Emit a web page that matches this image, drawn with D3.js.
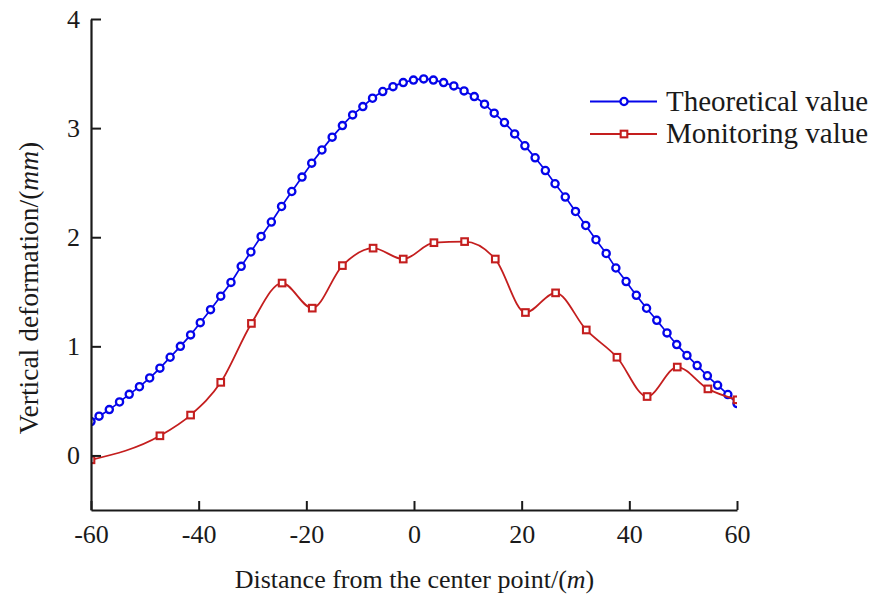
<!DOCTYPE html>
<html>
<head>
<meta charset="utf-8">
<script src="https://cdn.jsdelivr.net/npm/d3@7"></script>
<style>
  html, body { margin: 0; padding: 0; background: #fff; }
  svg { display: block; }
  text { font-family: "Liberation Serif", "Times New Roman", Times, serif; fill: #1a1a1a; }
</style>
</head>
<body>
<svg id="chart" width="872" height="599"></svg>
<script>
// ---- data ----
const theoX = [-60, -58.5, -56.6, -54.7, -52.9, -51.0, -49.1, -47.2, -45.3, -43.4, -41.5,
  -39.7, -37.8, -35.9, -34.0, -32.1, -30.3, -28.4, -26.5, -24.6, -22.7,
  -20.8, -19.0, -17.1, -15.2, -13.3, -11.4, -9.5, -7.7, -5.8, -3.9,
  -2.0, -0.1, 1.8, 3.6, 5.5, 7.4, 9.3, 11.2, 13.1, 14.9,
  16.8, 18.7, 20.6, 22.5, 24.4, 26.2, 28.1, 30.0, 31.9, 33.8,
  35.7, 37.5, 39.4, 41.3, 43.2, 45.1, 47.0, 48.8, 50.7, 52.6,
  54.5, 56.4, 58.3, 60];
const theoY = [0.31, 0.36, 0.42, 0.49, 0.56, 0.63, 0.71, 0.80, 0.90, 1.00, 1.105,
  1.217, 1.336, 1.46, 1.586, 1.733, 1.865, 2.007, 2.139, 2.282, 2.419,
  2.551, 2.679, 2.80, 2.917, 3.023, 3.121, 3.197, 3.274, 3.335, 3.38,
  3.417, 3.44, 3.451, 3.44, 3.417, 3.387, 3.341, 3.289, 3.219, 3.137,
  3.051, 2.947, 2.838, 2.728, 2.611, 2.49, 2.368, 2.236, 2.108, 1.977,
  1.851, 1.718, 1.594, 1.468, 1.349, 1.238, 1.123, 1.016, 0.917, 0.824,
  0.73, 0.643, 0.558, 0.475];
const monX = [-60, -47.2, -41.5, -35.9, -30.2, -24.5, -18.9, -13.3, -7.6, -2.0, 3.7,
  9.4, 15.1, 20.7, 26.3, 32.0, 37.7, 43.3, 48.9, 54.6, 60];
const monY = [-0.04, 0.18, 0.37, 0.67, 1.21, 1.58, 1.35, 1.74, 1.90, 1.80, 1.95,
  1.96, 1.80, 1.31, 1.49, 1.15, 0.90, 0.54, 0.81, 0.61, 0.51];
const xTicks = [-60, -40, -20, 0, 20, 40, 60];
const yTicks = [0, 1, 2, 3, 4];
const seriesNames = ["Theoretical value", "Monitoring value"];
const xLabel = "Distance from the center point/(";
const xLabelUnit = "m";
const yLabel = "Vertical deformation/(";
const yLabelUnit = "mm";

// ---- drawing ----
const BLUE = "#0505ea", RED = "#c41e1e", AXIS = "#1a1a1a";
const svg = d3.select("#chart");
const x = d3.scaleLinear().domain([-60, 60]).range([91, 737]);
const y = d3.scaleLinear().domain([-0.5, 4]).range([510, 19]);

svg.append("defs").append("clipPath").attr("id", "plot")
  .append("rect").attr("x", x(-60)).attr("y", 0)
  .attr("width", x(60) - x(-60)).attr("height", y(-0.5));

const theo = theoX.map((v, i) => ({x: v, y: theoY[i]}));
const mon = monX.map((v, i) => ({x: v, y: monY[i]}));

const g = svg.append("g").attr("clip-path", "url(#plot)");

g.append("path").datum(theo)
  .attr("fill", "none").attr("stroke", BLUE).attr("stroke-width", 1.7)
  .attr("d", d3.line().x(d => x(d.x)).y(d => y(d.y)).curve(d3.curveMonotoneX));
g.selectAll("circle.t").data(theo).enter().append("circle")
  .attr("class", "t").attr("cx", d => x(d.x)).attr("cy", d => y(d.y)).attr("r", 3.6)
  .attr("fill", "#fff").attr("stroke", BLUE).attr("stroke-width", 2.3);

g.append("path").datum(mon)
  .attr("fill", "none").attr("stroke", RED).attr("stroke-width", 1.8)
  .attr("d", d3.line().x(d => x(d.x)).y(d => y(d.y)).curve(d3.curveMonotoneX));
g.selectAll("rect.m").data(mon).enter().append("rect")
  .attr("class", "m").attr("x", d => x(d.x) - 3.3).attr("y", d => y(d.y) - 3.3)
  .attr("width", 6.6).attr("height", 6.6)
  .attr("fill", "#fff").attr("stroke", RED).attr("stroke-width", 2.1);

// axes
const xAxis = d3.axisBottom(x).tickValues(xTicks).tickFormat(d3.format("d"))
  .tickSizeInner(-9).tickSizeOuter(0).tickPadding(14.5);
const yAxis = d3.axisLeft(y).tickValues(yTicks).tickFormat(d3.format("d"))
  .tickSizeInner(-10).tickSizeOuter(0).tickPadding(11);

const gx = svg.append("g").attr("transform", `translate(0,${y(-0.5)})`).call(xAxis);
const gy = svg.append("g").attr("transform", `translate(${x(-60)},0)`).call(yAxis);
[gx, gy].forEach(a => {
  a.select(".domain").attr("stroke", AXIS).attr("stroke-width", 2.2);
  a.selectAll(".tick line").attr("stroke", AXIS).attr("stroke-width", 2);
  a.selectAll(".tick text").attr("font-size", 26).attr("fill", AXIS)
    .attr("font-family", '"Liberation Serif", "Times New Roman", serif');
});
gx.selectAll(".tick text").text(d => d < 0 ? "-" + Math.abs(d) : d);

// axis titles
const xt = svg.append("text").attr("x", 414.5).attr("y", 588)
  .attr("text-anchor", "middle").attr("font-size", 26);
xt.append("tspan").text(xLabel);
xt.append("tspan").attr("font-style", "italic").text(xLabelUnit);
xt.append("tspan").text(")");

const yt = svg.append("text").attr("transform", "translate(38,288) rotate(-90)")
  .attr("text-anchor", "middle").attr("font-size", 27.5);
yt.append("tspan").text(yLabel);
yt.append("tspan").attr("font-style", "italic").text(yLabelUnit);
yt.append("tspan").text(")");

// legend
const legend = svg.append("g");
const rows = [{name: seriesNames[0], c: BLUE, sym: "circle", yy: 101.5},
              {name: seriesNames[1], c: RED, sym: "square", yy: 134}];
rows.forEach(r => {
  legend.append("line").attr("x1", 590).attr("x2", 657).attr("y1", r.yy).attr("y2", r.yy)
    .attr("stroke", r.c).attr("stroke-width", 1.8);
  if (r.sym === "circle") {
    legend.append("circle").attr("cx", 624).attr("cy", r.yy).attr("r", 3.6)
      .attr("fill", "#fff").attr("stroke", r.c).attr("stroke-width", 2.3);
  } else {
    legend.append("rect").attr("x", 624 - 3.3).attr("y", r.yy - 3.3).attr("width", 6.6).attr("height", 6.6)
      .attr("fill", "#fff").attr("stroke", r.c).attr("stroke-width", 2.1);
  }
  legend.append("text").attr("x", 666).attr("y", r.yy + 9).attr("font-size", 29).text(r.name);
});
</script>
</body>
</html>
